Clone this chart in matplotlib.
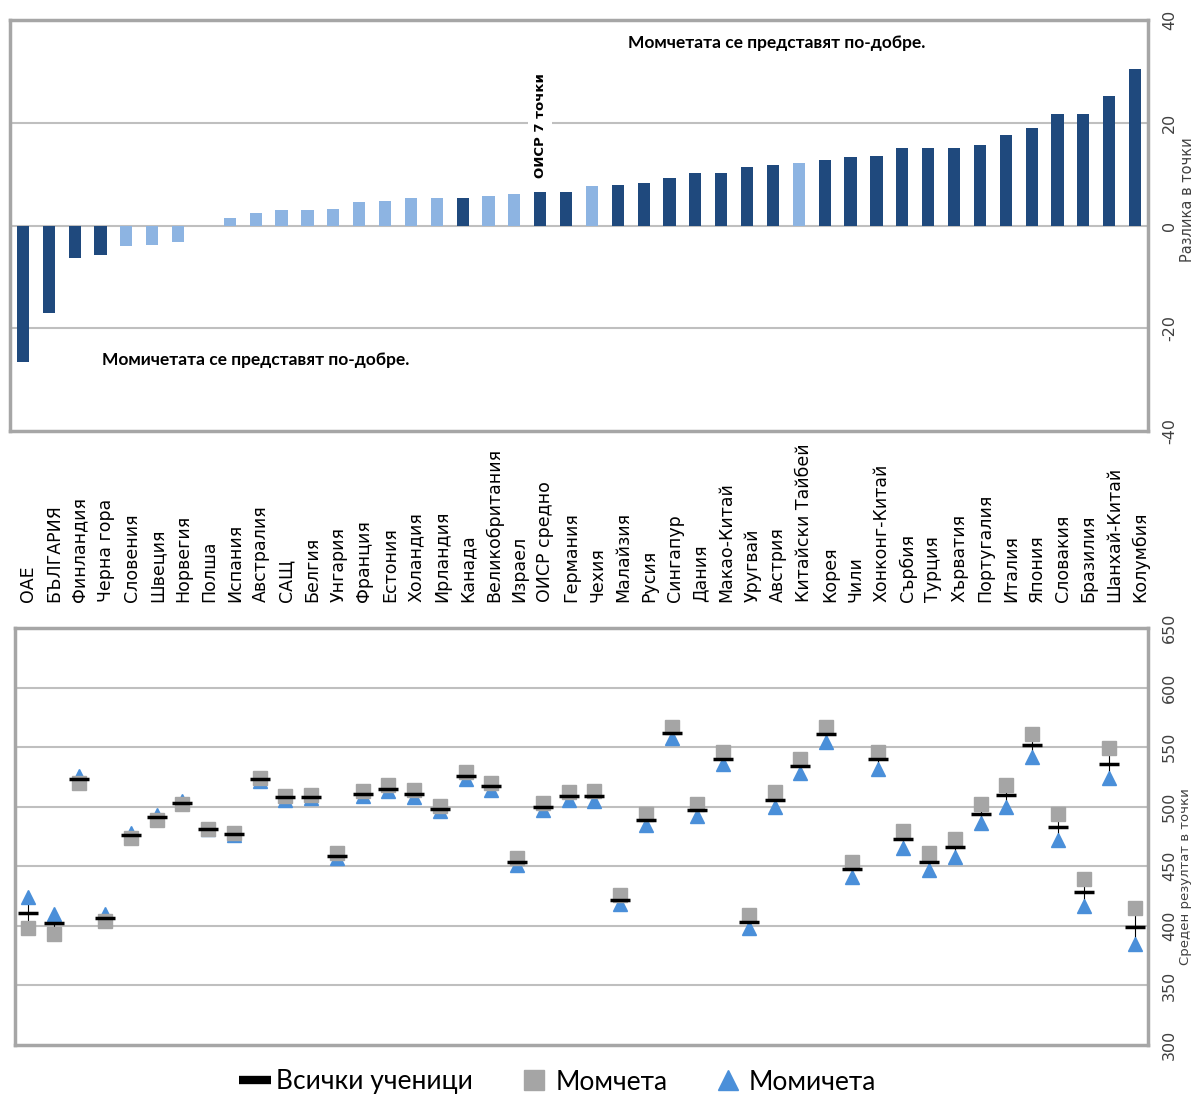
import numpy as np
import matplotlib
matplotlib.use("Agg")
import matplotlib.pyplot as plt
from matplotlib.lines import Line2D
from matplotlib.transforms import blended_transform_factory

plt.rcParams['axes.unicode_minus'] = False


countries = ['ОАЕ', 'БЪЛГАРИЯ', 'Финландия', 'Черна гора', 'Словения', 'Швеция',
             'Норвегия', 'Полша', 'Испания', 'Австралия', 'САЩ', 'Белгия', 'Унгария',
             'Франция', 'Естония', 'Холандия', 'Ирландия', 'Канада', 'Великобритания',
             'Израел', 'ОИСР средно', 'Германия', 'Чехия', 'Малайзия', 'Русия',
             'Сингапур', 'Дания', 'Макао-Китай', 'Уругвай', 'Австрия',
             'Китайски Тайбей', 'Корея', 'Чили', 'Хонконг-Китай', 'Сърбия', 'Турция',
             'Хърватия', 'Португалия', 'Италия', 'Япония', 'Словакия', 'Бразилия',
             'Шанхай-Китай', 'Колумбия']

# разлика момчета - момичета
diff = [-26.5, -17, -6.4, -5.7, -4.0, -3.8, -3.2, 0, 1.5, 2.5, 3.1, 3.1, 3.2,
        4.5, 4.7, 5.3, 5.3, 5.4, 5.8, 6.1, 6.6, 6.6, 7.7, 7.9, 8.2,
        9.3, 10.2, 10.3, 11.3, 11.7, 12.1, 12.8, 13.4, 13.6, 15.1, 15.1,
        15.1, 15.7, 17.7, 18.9, 21.8, 21.8, 25.2, 30.5]

# статистически значима разлика -> тъмен цвят
significant = [1, 1, 1, 1, 0, 0, 0, 0, 0, 0, 0, 0, 0,
               0, 0, 0, 0, 1, 0, 0, 1, 1, 0, 1, 1,
               1, 1, 1, 1, 1, 0, 1, 1, 1, 1, 1,
               1, 1, 1, 1, 1, 1, 1, 1]

mean_all = [411, 402, 523, 407, 476, 491, 503, 481, 477, 523, 508, 508, 459,
            511, 515, 511, 498, 526, 517, 454, 500, 509, 509, 422, 489,
            562, 497, 540, 403, 506, 534, 561, 448, 540, 473, 454,
            466, 494, 510, 552, 483, 428, 536, 399]

boys = [398, 393, 520, 404, 474, 489, 502, 481, 478, 524, 509, 510, 461,
        513, 518, 514, 501, 529, 520, 457, 503, 512, 513, 426, 494,
        567, 502, 546, 409, 512, 540, 567, 454, 546, 480, 461,
        473, 502, 518, 561, 494, 439, 549, 415]

girls = [424, 410, 526, 410, 478, 493, 505, 481, 476, 522, 506, 507, 457,
         509, 513, 508, 496, 523, 514, 451, 497, 506, 505, 418, 485,
         558, 492, 536, 398, 500, 528, 554, 441, 532, 465, 447,
         458, 486, 500, 542, 472, 417, 524, 385]

dark_blue = '#1F497D'
light_blue = '#8DB4E2'
grid_col = '#BFBFBF'
frame_col = '#A6A6A6'
tick_col = '#404040'

x = np.arange(len(countries))

fig = plt.figure(figsize=(11.97, 10.95), dpi=100)

# ---- горна графика: разлики ----
ax1 = fig.add_axes([10 / 1197, 1 - 431 / 1095, 1138 / 1197, 411 / 1095])
colors = [dark_blue if s else light_blue for s in significant]
ax1.bar(x, diff, width=0.47, color=colors, zorder=3)
for v in (-20, 0, 20):
    ax1.axhline(v, color=grid_col, lw=1.5, zorder=1)
ax1.set_xlim(-0.5, len(countries) - 0.5)
ax1.set_ylim(-40, 40)
ax1.set_xticks([])
ax1.set_yticks([-40, -20, 0, 20, 40])
ax1.yaxis.tick_right()
ax1.tick_params(axis='y', length=0, pad=10, labelsize=11.5, labelcolor=tick_col)
for lab in ax1.get_yticklabels():
    lab.set_rotation(90)
    lab.set_va('center')
for sp in ax1.spines.values():
    sp.set_color(frame_col)
    sp.set_linewidth(2.5)

ax1.text(1188 / 1197, 1 - 200 / 1095, 'Разлика в точки', transform=fig.transFigure,
         rotation=90, ha='center', va='center', fontsize=10.5, color=tick_col)
ax1.text(20, 19.5, 'ОИСР 7 точки', rotation=90, ha='center', va='center',
         fontsize=9.5, fontweight='bold', zorder=4,
         bbox=dict(facecolor='white', edgecolor='none', pad=4))
ax1.text(0.543, 0.944, 'Момчетата се представят по-добре.', transform=ax1.transAxes,
         ha='left', va='center', fontsize=12.5, fontweight='bold', family='Lato')
ax1.text(0.081, 0.173, 'Момичетата се представят по-добре.', transform=ax1.transAxes,
         ha='left', va='center', fontsize=12.5, fontweight='bold', family='Lato')

# имена на държавите
trans = blended_transform_factory(ax1.transData, fig.transFigure)
for i, name in enumerate(countries):
    fig.text(i + 0.2, 1 - 602 / 1095, name, transform=trans, rotation=90,
             ha='center', va='bottom', fontsize=12.5, color='black')

# ---- долна графика: средни резултати ----
ax2 = fig.add_axes([15 / 1197, 1 - 1045 / 1095, 1133 / 1197, 417 / 1095])
for v in range(350, 650, 50):
    ax2.axhline(v, color=grid_col, lw=1.5, zorder=1)
ax2.vlines(x, np.minimum(boys, girls), np.maximum(boys, girls), color='black',
           lw=0.8, zorder=2)
ax2.plot(x, girls, ls='none', marker='^', ms=10, color='#4A8FD9', zorder=3)
ax2.plot(x, boys, ls='none', marker='s', ms=10.5, color='#A5A5A5', zorder=4)
ax2.plot(x, mean_all, ls='none', marker='_', ms=14, mew=2.5, color='black', zorder=5)
ax2.set_xlim(-0.5, len(countries) - 0.5)
ax2.set_ylim(300, 650)
ax2.set_xticks([])
ax2.set_yticks(range(300, 651, 50))
ax2.yaxis.tick_right()
ax2.tick_params(axis='y', length=0, pad=10, labelsize=11.5, labelcolor=tick_col)
for lab in ax2.get_yticklabels():
    lab.set_rotation(90)
    lab.set_va('center')
for sp in ax2.spines.values():
    sp.set_color(frame_col)
    sp.set_linewidth(2.5)

fig.text(1186 / 1197, 1 - 877 / 1095, 'Среден резултат в точки', rotation=90,
         ha='center', va='center', fontsize=9.5, color=tick_col)

handles = [
    Line2D([], [], ls='none', marker='_', ms=23, mew=6, color='black'),
    Line2D([], [], ls='none', marker='s', ms=14, color='#A5A5A5'),
    Line2D([], [], ls='none', marker='^', ms=15, color='#4A8FD9'),
]
fig.legend(handles, ['Всички ученици', 'Момчета', 'Момичета'], loc='center',
           bbox_to_anchor=(558 / 1197, 1 - 1082 / 1095), ncol=3, frameon=False,
           prop={'family': 'Lato', 'size': 19}, handletextpad=0.2,
           columnspacing=1.7, handlelength=1.2)

fig.savefig('out.png', dpi=100)
